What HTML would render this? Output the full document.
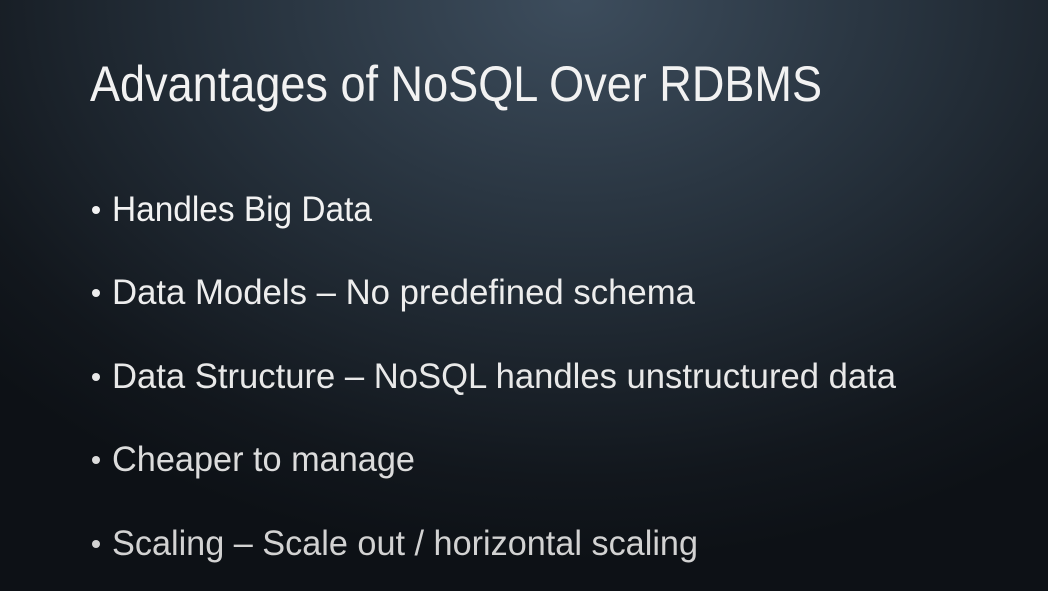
<!DOCTYPE html>
<html><head><style>
html,body{margin:0;padding:0}
body{width:1048px;height:591px;overflow:hidden;background:radial-gradient(ellipse 75% 95% at 55% 0%,#3d4d5d 0%,#26313c 45%,#12171d 85%,#0d1116 100%)}
svg{display:block}
text{font-family:"Liberation Sans",sans-serif}
</style></head><body>
<svg width="1048" height="591" xmlns="http://www.w3.org/2000/svg">
<text x="90" y="101" font-size="50" fill="#f2f2f2" textLength="732" lengthAdjust="spacingAndGlyphs">Advantages of NoSQL Over RDBMS</text>
<g font-size="35">
<circle cx="96" cy="210" r="4" fill="#f2f2f2"/>
<text x="112" y="221" fill="#f2f2f2" textLength="260" lengthAdjust="spacingAndGlyphs">Handles Big Data</text>
<circle cx="96" cy="293" r="4" fill="#ededed"/>
<text x="112" y="304" fill="#ededed" textLength="583" lengthAdjust="spacingAndGlyphs">Data Models – No predefined schema</text>
<circle cx="96" cy="377" r="4" fill="#e8e8e8"/>
<text x="112" y="388" fill="#e8e8e8" textLength="784" lengthAdjust="spacingAndGlyphs">Data Structure – NoSQL handles unstructured data</text>
<circle cx="96" cy="460" r="4" fill="#dcdcdc"/>
<text x="112" y="471" fill="#dcdcdc" textLength="303" lengthAdjust="spacingAndGlyphs">Cheaper to manage</text>
<circle cx="96" cy="544" r="4" fill="#d2d2d2"/>
<text x="112" y="555" fill="#d2d2d2" textLength="586" lengthAdjust="spacingAndGlyphs">Scaling – Scale out / horizontal scaling</text>
</g>
</svg>
</body></html>
